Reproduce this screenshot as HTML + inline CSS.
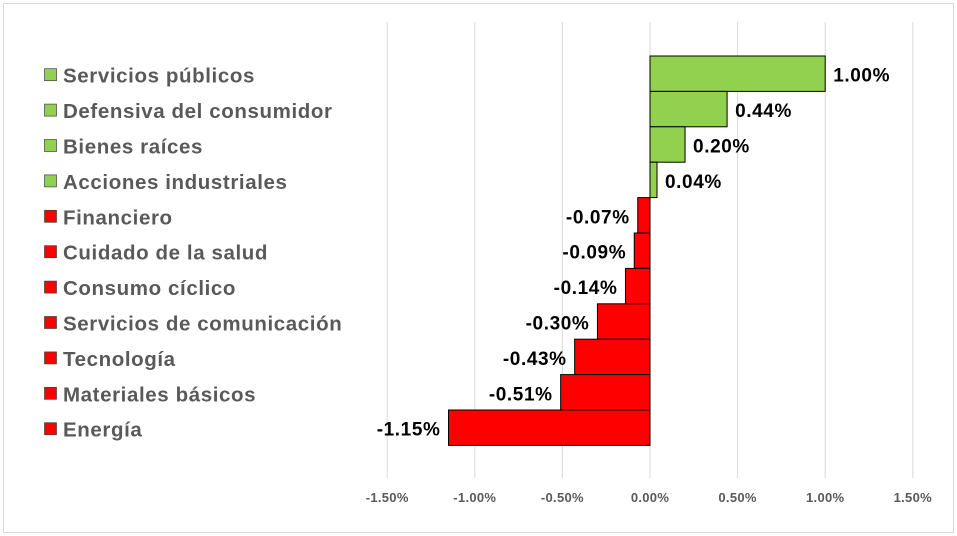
<!DOCTYPE html>
<html><head><meta charset="utf-8"><style>
body{margin:0;background:#fff;}
#c{position:absolute;left:0;top:0;width:957px;height:536px;}
</style></head><body>
<svg id="c" width="957" height="536" font-family="'Liberation Sans', 'DejaVu Sans', sans-serif">
<rect x="3.5" y="3.5" width="950" height="529" fill="#fff" stroke="#d9d9d9"/>
<g id="grid"></g><g id="bars"></g><g id="labels"></g><g id="legend"></g><g id="ticks"></g>
</svg>
<script>
const categories=["Servicios públicos","Defensiva del consumidor","Bienes raíces","Acciones industriales","Financiero","Cuidado de la salud","Consumo cíclico","Servicios de comunicación","Tecnología","Materiales básicos","Energía"];
const values=[1.00,0.44,0.20,0.04,-0.07,-0.09,-0.14,-0.30,-0.43,-0.51,-1.15];
const tickValues=[-1.5,-1.0,-0.5,0,0.5,1.0,1.5];
const tickLabels=["-1.50%","-1.00%","-0.50%","0.00%","0.50%","1.00%","1.50%"];
const NS="http://www.w3.org/2000/svg";
const x=v=>650+v*175.2;
const rowH=35.4, top0=56;
const y=i=>top0+i*rowH;
function mk(t,a,p){const e=document.createElementNS(NS,t);for(const k in a)e.setAttribute(k,a[k]);p.appendChild(e);return e;}
const g=document.getElementById('grid'),b=document.getElementById('bars'),l=document.getElementById('labels'),lg=document.getElementById('legend'),tk=document.getElementById('ticks');
tickValues.forEach((v,i)=>{
 const ln=mk('line',{x1:x(v),x2:x(v),y1:22,y2:478,stroke:'#d9d9d9','stroke-width':1},g);
 
 
 const t=mk('text',{x:x(v),y:502,'text-anchor':'middle','font-size':13,'font-weight':'bold',fill:'#595959','letter-spacing':0.3},tk);
 t.textContent=tickLabels[i];
 
 
});
values.forEach((v,i)=>{
 const col=v>=0?'#92d050':'#ff0000';
 const r=mk('rect',{x:Math.min(x(0),x(v)),y:y(i),width:Math.abs(x(v)-x(0)),height:rowH,fill:col,stroke:'#000','stroke-width':1},b);
 
 
 const s=(v>=0?'':'-')+Math.abs(v).toFixed(2)+'%';
 const t=mk('text',{x:v>=0?x(v)+8:x(v)-8,y:y(i)+rowH/2+8,'text-anchor':v>=0?'start':'end','font-size':19,'font-weight':'bold',fill:'#000','letter-spacing':0.6},l);
 t.textContent=s;
 
 
 const sq=mk('rect',{x:44.5,y:y(i)+rowH/2-5,width:12,height:12,fill:col,stroke:'#404040','stroke-width':0.7},lg);
 
 
 const lt=mk('text',{x:63,y:y(i)+rowH/2+9,'font-size':20.5,'font-weight':'bold',fill:'#595959','letter-spacing':0.6},lg);
 lt.textContent=categories[i];
 
 
});
</script>
</body></html>
